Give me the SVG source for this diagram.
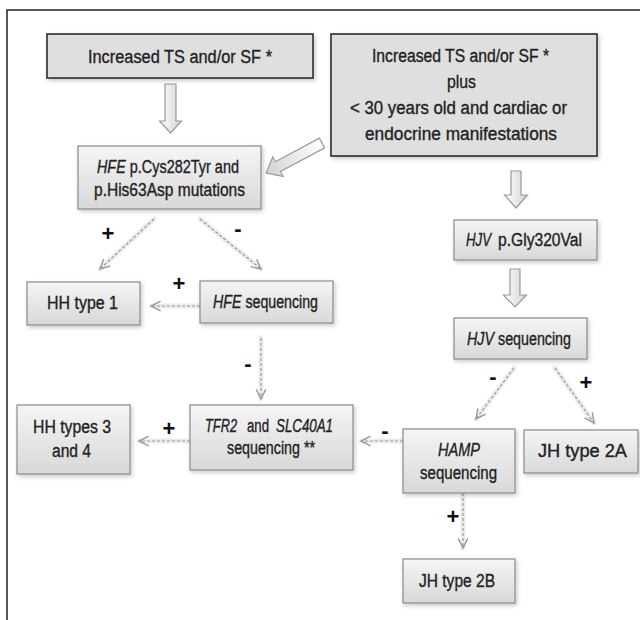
<svg xmlns="http://www.w3.org/2000/svg" width="640" height="620" viewBox="0 0 640 620">
<defs>
<style>
.t{font-family:"Liberation Sans",Arial,sans-serif;font-size:18px;fill:#222;stroke:#222;stroke-width:0.35;}
.i{font-style:italic;}
.sg{font-family:"Liberation Sans",Arial,sans-serif;font-size:22px;font-weight:bold;fill:#111;text-anchor:middle;}
.b1{fill:#dfdfdf;stroke:#222;stroke-width:1.5;}
.b2{fill:url(#gb);stroke:#8a8a8a;stroke-width:1.2;}
.d{fill:none;stroke:#9a9a9a;stroke-width:1.2;stroke-dasharray:3 2;marker-end:url(#chev);}
.g{fill:none;stroke:#ececec;stroke-width:5;stroke-linecap:round;}
.h{fill:url(#ga);stroke:#9a9a9a;stroke-width:1.2;stroke-linejoin:miter;}
</style>
<linearGradient id="gb" x1="0" y1="0" x2="0" y2="1">
<stop offset="0" stop-color="#f5f5f5"/>
<stop offset="1" stop-color="#d8d8d8"/>
</linearGradient>
<linearGradient id="ga" x1="0" y1="0" x2="1" y2="0">
<stop offset="0" stop-color="#ffffff"/>
<stop offset="1" stop-color="#d2d2d2"/>
</linearGradient>
<filter id="sh" x="-10%" y="-10%" width="130%" height="140%">
<feDropShadow dx="1.5" dy="2" stdDeviation="2" flood-color="#000" flood-opacity="0.22"/>
</filter>
<marker id="chev" viewBox="0 0 10 10" refX="9" refY="5" markerWidth="12" markerHeight="12" markerUnits="userSpaceOnUse" orient="auto">
<path d="M1,1 L9,5 L1,9" fill="none" stroke="#9a9a9a" stroke-width="1.2"/>
</marker>
</defs>
<rect width="640" height="620" fill="#fff"/>
<path d="M7,620 V10 H640" fill="none" stroke="#222" stroke-width="1.5"/>

<g id="connectors">
<path class="h" d="M165,84 H176 V121 H181.5 L170.5,133 L159.5,121 H165 Z"/>
<path class="h" d="M0,-5.5 H50 V-11 L63.5,0 L50,11 V5.5 H0 Z" transform="translate(322,143) rotate(151.8)"/>
<path class="h" d="M511,171 H521 V195 H527.5 L516,208 L504.5,195 H511 Z"/>
<path class="h" d="M510,269 H520 V295 H526.5 L515,307 L503.5,295 H510 Z"/>
<g>
<line class="g" x1="154" y1="219" x2="100" y2="269"/>
<line class="g" x1="200" y1="219" x2="261" y2="269"/>
<line class="g" x1="200" y1="306" x2="151" y2="306"/>
<line class="g" x1="261" y1="338" x2="261" y2="399"/>
<line class="g" x1="190" y1="441" x2="139" y2="441"/>
<line class="g" x1="403" y1="441" x2="361" y2="441"/>
<line class="g" x1="514" y1="368" x2="476" y2="419"/>
<line class="g" x1="555" y1="368" x2="594" y2="423"/>
<line class="g" x1="463" y1="493" x2="463" y2="548"/>
</g>
<line class="d" x1="154" y1="219" x2="100" y2="269"/>
<line class="d" x1="200" y1="219" x2="261" y2="269"/>
<line class="d" x1="200" y1="306" x2="151" y2="306"/>
<line class="d" x1="261" y1="338" x2="261" y2="399"/>
<line class="d" x1="190" y1="441" x2="139" y2="441"/>
<line class="d" x1="403" y1="441" x2="361" y2="441"/>
<line class="d" x1="514" y1="368" x2="476" y2="419"/>
<line class="d" x1="555" y1="368" x2="594" y2="423"/>
<line class="d" x1="463" y1="493" x2="463" y2="548"/>
<text class="sg" x="108" y="241">+</text>
<text class="sg" x="238" y="236">-</text>
<text class="sg" x="179" y="291">+</text>
<text class="sg" x="248" y="371">-</text>
<text class="sg" x="493" y="384">-</text>
<text class="sg" x="586" y="390">+</text>
<text class="sg" x="169" y="436">+</text>
<text class="sg" x="385" y="438">-</text>
<text class="sg" x="453" y="524">+</text>
</g>

<g id="n1">
<rect class="b1" x="47" y="34" width="266" height="44" filter="url(#sh)"/>
<text class="t" x="88" y="63" textLength="184" lengthAdjust="spacingAndGlyphs">Increased TS and/or SF *</text>
</g>
<g id="n2">
<rect class="b1" x="331" y="34" width="266" height="122" filter="url(#sh)"/>
<text class="t" x="372" y="62" textLength="177" lengthAdjust="spacingAndGlyphs">Increased TS and/or SF *</text>
<text class="t" x="447" y="88" textLength="29" lengthAdjust="spacingAndGlyphs">plus</text>
<text class="t" x="350" y="114" textLength="217" lengthAdjust="spacingAndGlyphs">&lt; 30 years old and cardiac or</text>
<text class="t" x="365" y="140" textLength="192" lengthAdjust="spacingAndGlyphs">endocrine manifestations</text>
</g>
<g id="n3">
<rect class="b2" x="78" y="146" width="183" height="63" filter="url(#sh)"/>
<text class="t i" x="97" y="173" textLength="28.7" lengthAdjust="spacingAndGlyphs">HFE</text>
<text class="t" x="129.7" y="173" textLength="109.3" lengthAdjust="spacingAndGlyphs">p.Cys282Tyr and</text>
<text class="t" x="94" y="196" textLength="151" lengthAdjust="spacingAndGlyphs">p.His63Asp mutations</text>
</g>
<g id="n4">
<rect class="b2" x="454" y="220" width="143" height="40" filter="url(#sh)"/>
<text class="t i" x="466" y="246" textLength="25" lengthAdjust="spacingAndGlyphs">HJV</text>
<text class="t" x="498" y="246" textLength="84" lengthAdjust="spacingAndGlyphs">p.Gly320Val</text>
</g>
<g id="n5">
<rect class="b2" x="454" y="318" width="133" height="41" filter="url(#sh)"/>
<text class="t i" x="467" y="345" textLength="27" lengthAdjust="spacingAndGlyphs">HJV</text>
<text class="t" x="498" y="345" textLength="73" lengthAdjust="spacingAndGlyphs">sequencing</text>
</g>
<g id="n6">
<rect class="b2" x="27" y="282" width="113" height="43" filter="url(#sh)"/>
<text class="t" x="47" y="309" textLength="71" lengthAdjust="spacingAndGlyphs">HH type 1</text>
</g>
<g id="n7">
<rect class="b2" x="200" y="281" width="133" height="42" filter="url(#sh)"/>
<text class="t i" x="213" y="308" textLength="28.4" lengthAdjust="spacingAndGlyphs">HFE</text>
<text class="t" x="245.4" y="308" textLength="72.6" lengthAdjust="spacingAndGlyphs">sequencing</text>
</g>
<g id="n8">
<rect class="b2" x="190" y="405" width="163" height="65" filter="url(#sh)"/>
<text class="t i" x="205" y="432" textLength="32" lengthAdjust="spacingAndGlyphs">TFR2</text>
<text class="t" x="247" y="432" textLength="22" lengthAdjust="spacingAndGlyphs">and</text>
<text class="t i" x="276" y="432" textLength="57" lengthAdjust="spacingAndGlyphs">SLC40A1</text>
<text class="t" x="227" y="454" textLength="88" lengthAdjust="spacingAndGlyphs">sequencing **</text>
</g>
<g id="n9">
<rect class="b2" x="17" y="405" width="113" height="69" filter="url(#sh)"/>
<text class="t" x="33" y="433" textLength="78" lengthAdjust="spacingAndGlyphs">HH types 3</text>
<text class="t" x="52" y="457" textLength="39" lengthAdjust="spacingAndGlyphs">and 4</text>
</g>
<g id="n10">
<rect class="b2" x="403" y="429" width="112" height="64" filter="url(#sh)"/>
<text class="t i" x="438" y="456" textLength="42" lengthAdjust="spacingAndGlyphs">HAMP</text>
<text class="t" x="420" y="479" textLength="77" lengthAdjust="spacingAndGlyphs">sequencing</text>
</g>
<g id="n11">
<rect class="b2" x="524" y="430" width="114" height="43" filter="url(#sh)"/>
<text class="t" x="538" y="457" textLength="89" lengthAdjust="spacingAndGlyphs">JH type 2A</text>
</g>
<g id="n12">
<rect class="b2" x="403" y="559" width="112" height="44" filter="url(#sh)"/>
<text class="t" x="419" y="587" textLength="76" lengthAdjust="spacingAndGlyphs">JH type 2B</text>
</g>
</svg>
